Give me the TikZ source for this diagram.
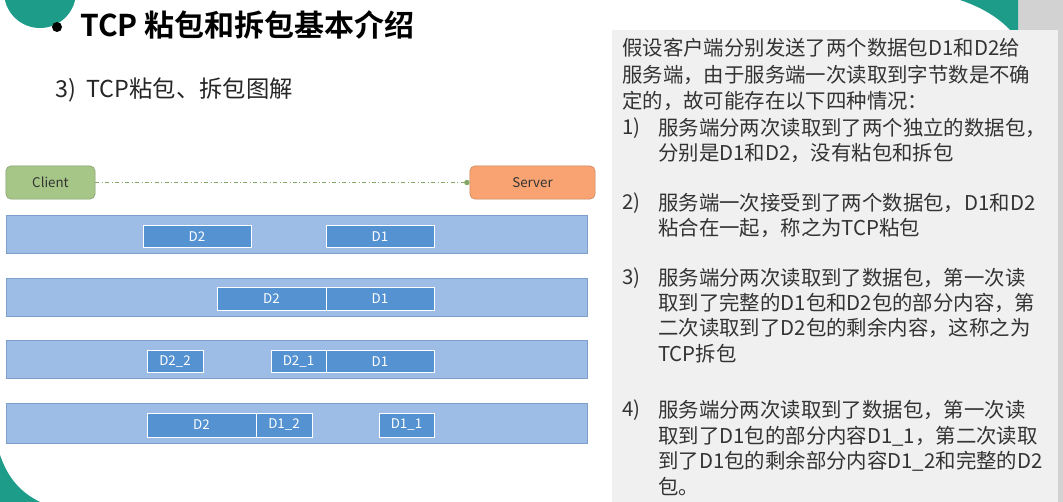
\documentclass[tikz,border=0pt]{standalone}
\usepackage{fontspec}
\setmainfont{Noto Sans CJK SC}
\newfontfamily\cjkb{Noto Sans CJK SC Bold}
\usetikzlibrary{arrows.meta}
\definecolor{barfill}{HTML}{9DBDE6}
\definecolor{barline}{HTML}{7F9FCB}
\definecolor{pkt}{HTML}{5592D2}
\definecolor{cgreen}{HTML}{A5C686}
\definecolor{cgreenl}{HTML}{83A866}
\definecolor{sorange}{HTML}{F8A371}
\definecolor{panel}{HTML}{F0F0F0}
\definecolor{teal}{HTML}{1E9C8A}
\definecolor{txt}{HTML}{333333}
\begin{document}
\begin{tikzpicture}[x=0.75pt,y=-0.75pt,
  bar/.style={draw=barline,fill=barfill,line width=0.6pt},
  pk/.style={draw=white,fill=pkt,text=white,font=\fontsize{10}{12}\selectfont,inner sep=0pt,line width=0.6pt},
  ep/.style={draw=#1!80!black,fill=#1,rounded corners=4pt,minimum height=25pt,inner sep=0pt,font=\fontsize{10}{12}\selectfont,text=black!80},
  rt/.style={anchor=west,inner sep=0pt,text=txt,font=\fontsize{15.3}{18}\selectfont}]
\useasboundingbox (0,0) rectangle (1063,502);
\fill[white] (0,0) rectangle (1063,502);
% decorations
\fill[teal] (40,-8) circle (36);
\fill[teal] (0,455) .. controls (8,478) and (20,492) .. (40,502) -- (0,502) -- cycle;
\fill[gray!35] (1018,0) rectangle (1063,502);
\fill[teal] (960,0) .. controls (990,10) and (1008,25) .. (1018,40) -- (1018,0) -- cycle;
\fill[panel] (612,30) rectangle (1058,502);
% title
\fill[black] (57,27) circle (5);
\node[anchor=west,inner sep=0pt,font=\cjkb\fontsize{22.5}{26}\selectfont] (title) at (80,25) {TCP 粘包和拆包基本介绍};
\node[anchor=west,inner sep=0pt,font=\fontsize{17.5}{20}\selectfont,text=black!85] (sub) at (55,90) {3)\ \ TCP粘包、拆包图解};
% client/server
\node[ep=cgreen,minimum width=67pt] (client) at (50.5,182.5) {Client};
\node[ep=sorange,minimum width=94pt] (server) at (532.5,182.5) {Server};
\draw[cgreenl,dash dot,-{Circle[length=4pt]},line width=0.8pt] (client) -- (server);
% bars
\node[bar,minimum width=435.75pt,minimum height=28.5pt,inner sep=0pt] (b1) at (296.5,234) {};
\node[bar,minimum width=435.75pt,minimum height=28.5pt,inner sep=0pt] (b2) at (296.5,297) {};
\node[bar,minimum width=435.75pt,minimum height=28.5pt,inner sep=0pt] (b3) at (296.5,359.5) {};
\node[bar,minimum width=435.75pt,minimum height=30pt,inner sep=0pt] (b4) at (296.5,423) {};
% packets
\node[pk,minimum width=81pt,minimum height=17pt] (p1a) at (197,236.5) {D2};
\node[pk,minimum width=81pt,minimum height=17pt] (p1b) at (380,236.5) {D1};
\node[pk,minimum width=81.75pt,minimum height=17pt] (p2a) at (271.5,299) {D2};
\node[pk,minimum width=81pt,minimum height=17pt] (p2b) at (380,299) {D1};
\node[pk,minimum width=42pt,minimum height=17pt] (p3a) at (175,361.5) {D2\_2};
\node[pk,minimum width=41.25pt,minimum height=17pt] (p3b) at (298.5,361.5) {D2\_1};
\node[pk,minimum width=81pt,minimum height=17pt] (p3c) at (380,361.5) {D1};
\node[pk,minimum width=81.75pt,minimum height=18pt] (p4a) at (201.5,425) {D2};
\node[pk,minimum width=42pt,minimum height=18pt] (p4b) at (284,425) {D1\_2};
\node[pk,minimum width=41.25pt,minimum height=18pt] (p4c) at (406.5,425) {D1\_1};
% right text
\node[rt] (t1) at (622,48) {假设客户端分别发送了两个数据包D1和D2给};
\node[rt] (t2) at (622,75) {服务端，由于服务端一次读取到字节数是不确};
\node[rt] (t3) at (622,101) {定的，故可能存在以下四种情况：};
\node[rt] (n1) at (622,128) {1)};
\node[rt] (a1) at (658,128) {服务端分两次读取到了两个独立的数据包，};
\node[rt] (a2) at (658,153) {分别是D1和D2，没有粘包和拆包};
\node[rt] (n2) at (622,203) {2)};
\node[rt] (b1t) at (658,203) {服务端一次接受到了两个数据包，D1和D2};
\node[rt] (b2t) at (658,228) {粘合在一起，称之为TCP粘包};
\node[rt] (n3) at (622,278) {3)};
\node[rt] (c1) at (658,278) {服务端分两次读取到了数据包，第一次读};
\node[rt] (c2) at (658,303) {取到了完整的D1包和D2包的部分内容，第};
\node[rt] (c3) at (658,328) {二次读取到了D2包的剩余内容，这称之为};
\node[rt] (c4) at (658,354) {TCP拆包};
\node[rt] (n4) at (622,410) {4)};
\node[rt] (d1) at (658,410) {服务端分两次读取到了数据包，第一次读};
\node[rt] (d2) at (658,436) {取到了D1包的部分内容D1\_1，第二次读取};
\node[rt] (d3) at (658,461) {到了D1包的剩余部分内容D1\_2和完整的D2};
\node[rt] (d4) at (658,487) {包。};
\end{tikzpicture}
\end{document}
